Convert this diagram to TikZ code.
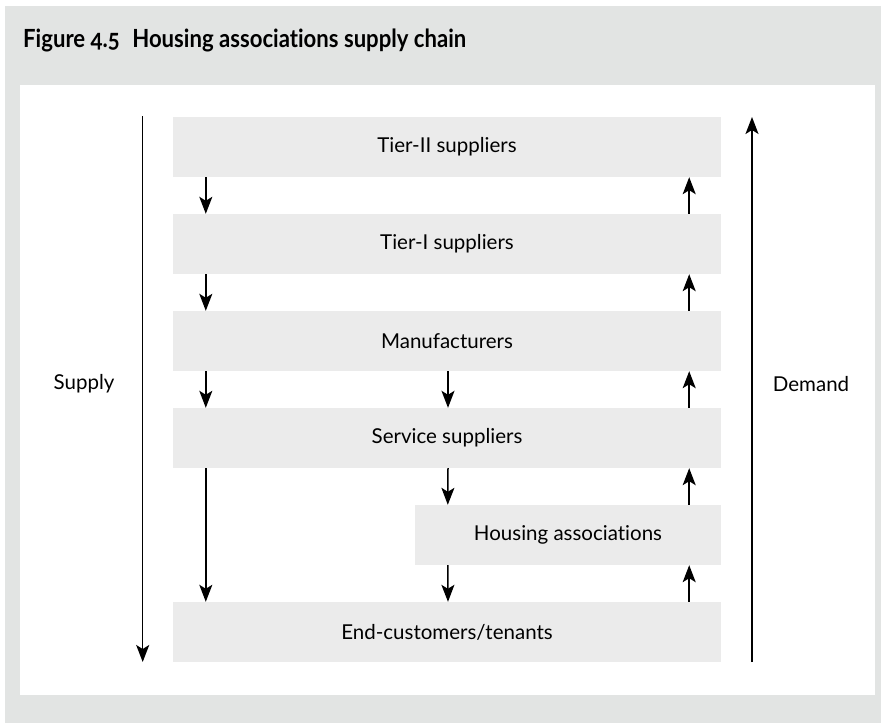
\documentclass[tikz,border=0pt]{standalone}
\usepackage{fontspec}
\setmainfont{Lato}[Numbers=OldStyle, Ligatures={NoCommon}]
\newfontfamily\titlefont{Lato}[Numbers=OldStyle, Ligatures={NoCommon}, FakeStretch=0.885]
\usetikzlibrary{arrows.meta}
\definecolor{panelgray}{RGB}{226,228,227}
\definecolor{boxgray}{RGB}{235,235,235}
\tikzset{
  box/.style={fill=boxgray, inner sep=0pt, minimum height=60pt,
    font=\fontsize{20.5}{23}\selectfont},
  wide/.style={box, minimum width=548pt},
  arr/.style={-{Stealth[length=17pt,width=13pt,inset=4pt]}, line width=1.5pt},
  side/.style={font=\fontsize{20.5}{23}\selectfont}
}
\begin{document}
\begin{tikzpicture}[x=1pt,y=-1pt]
  \useasboundingbox (0,0) rectangle (881,723);
  % frame and inner panel
  \fill[panelgray] (5,6) rectangle (881,723);
  \fill[white] (20,85) rectangle (875,695);
  \node[anchor=base west, inner sep=0pt, font=\titlefont\bfseries\fontsize{25}{28}\selectfont]
    (title) at (23,47.7) {Figure 4.5\enspace Housing associations supply chain};

  % chain of boxes
  \node[wide] (t2) at (447,147) {Tier-II suppliers};
  \node[wide] (t1) at (447,244) {Tier-I suppliers};
  \node[wide] (mf) at (447,341) {Manufacturers};
  \node[wide] (ss) at (447,438) {Service suppliers};
  \node[box, minimum width=306pt] (ha) at (568,535) {Housing associations};
  \node[wide] (ec) at (447,632) {End-customers/tenants};

  % supply flow (downwards)
  \draw[arr] ([xshift=33pt]t2.south west) -- ([xshift=33pt]t1.north west);
  \draw[arr] ([xshift=33pt]t1.south west) -- ([xshift=33pt]mf.north west);
  \draw[arr] ([xshift=33pt]mf.south west) -- ([xshift=33pt]ss.north west);
  \draw[arr] ([xshift=33pt]ss.south west) -- ([xshift=33pt]ec.north west);
  \draw[arr] ([xshift=1pt]mf.south) -- ([xshift=1pt]ss.north);
  \draw[arr] ([xshift=1pt]ss.south) -- ([xshift=33pt]ha.north west);
  \draw[arr] ([xshift=33pt]ha.south west) -- ([xshift=1pt]ec.north);

  % demand flow (upwards)
  \draw[arr] ([xshift=-32pt]ec.north east) -- ([xshift=-32pt]ha.south east);
  \draw[arr] ([xshift=-32pt]ha.north east) -- ([xshift=-32pt]ss.south east);
  \draw[arr] ([xshift=-32pt]ss.north east) -- ([xshift=-32pt]mf.south east);
  \draw[arr] ([xshift=-32pt]mf.north east) -- ([xshift=-32pt]t1.south east);
  \draw[arr] ([xshift=-32pt]t1.north east) -- ([xshift=-32pt]t2.south east);

  % overall supply and demand directions
  \coordinate (supTop) at (142.7,116);
  \coordinate (supEnd) at (142.7,662);
  \coordinate (demStart) at (752,662);
  \coordinate (demEnd) at (752,117);
  \draw[arr] (supTop) -- (supEnd);
  \draw[arr] (demStart) -- (demEnd);
  \node[side] (supply) at (84,384) {Supply};
  \node[side] (demand) at (811,384) {Demand};
\end{tikzpicture}
\end{document}
